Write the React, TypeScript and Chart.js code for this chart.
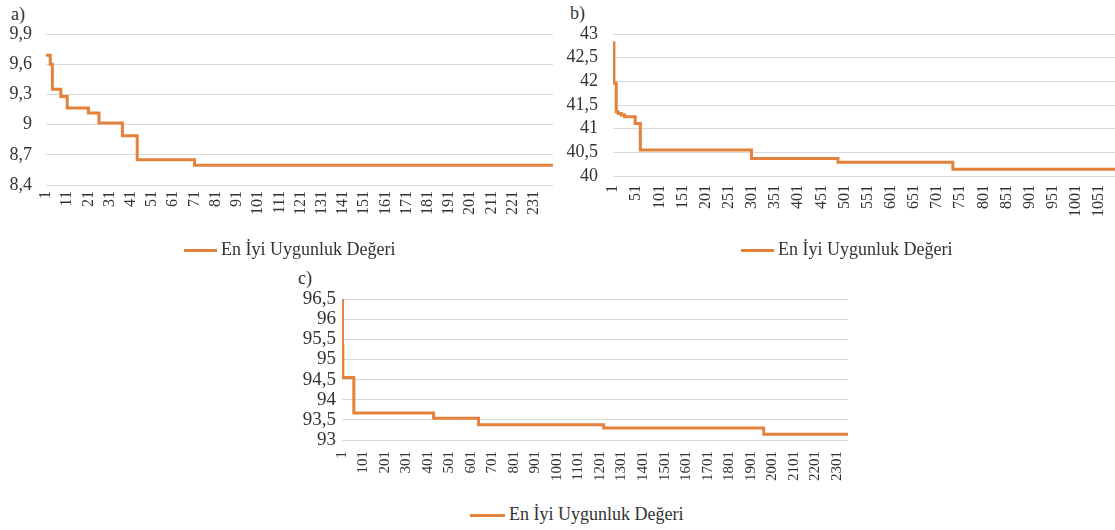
import React, { useEffect, useRef } from 'react';
import { Chart, registerables } from 'chart.js';

Chart.register(...registerables);

const legendLabel = 'En İyi Uygunluk Değeri';
const lineColor = '#E4813B';
const gridColor = '#D9D9D9';
const textColor = '#333333';
const fontFamily = "'Liberation Serif', 'Times New Roman', serif";

// Chart a) — iteration at which the best value changes, and the new value
const aIterations = [1, 3, 4, 8, 11, 21, 26, 37, 44, 71, 240];
const aValues = [9.69, 9.6, 9.35, 9.28, 9.165, 9.115, 9.015, 8.89, 8.65, 8.595, 8.595];
const aXTicks = [1, 11, 21, 31, 41, 51, 61, 71, 81, 91, 101, 111, 121, 131, 141, 151, 161, 171, 181, 191, 201, 211, 221, 231];
const aYTicks = [8.4, 8.7, 9, 9.3, 9.6, 9.9];

// Chart b)
const bIterations = [1, 3, 8, 12, 19, 26, 49, 60, 300, 487, 735, 1096];
const bValues = [42.81, 41.96, 41.36, 41.32, 41.29, 41.25, 41.11, 40.55, 40.37, 40.29, 40.14, 40.14];
const bXTicks = [1, 51, 101, 151, 201, 251, 301, 351, 401, 451, 501, 551, 601, 651, 701, 751, 801, 851, 901, 951, 1001, 1051];
const bYTicks = [40, 40.5, 41, 41.5, 42, 42.5, 43];

// Chart c)
const cIterations = [1, 3, 5, 56, 427, 636, 1218, 1962, 2354];
const cValues = [96.46, 95.35, 94.55, 93.67, 93.54, 93.38, 93.3, 93.14, 93.14];
const cXTicks = [1, 101, 201, 301, 401, 501, 601, 701, 801, 901, 1001, 1101, 1201, 1301, 1401, 1501, 1601, 1701, 1801, 1901, 2001, 2101, 2201, 2301];
const cYTicks = [93, 93.5, 94, 94.5, 95, 95.5, 96, 96.5];

type PanelProps = {
  left: number;
  top: number;
  width: number;
  height: number;
  yAxisWidth: number;
  xAxisHeight: number;
  padTop: number;
  iterations: number[];
  values: number[];
  xTicks: number[];
  yTicks: number[];
  xMax: number;
  yTickPadding: number;
  xTickPadding: number;
  yFontSize: number;
  xFontSize: number;
};

function Panel(p: PanelProps) {
  const ref = useRef<HTMLCanvasElement | null>(null);
  useEffect(() => {
    if (!ref.current) return;
    const chart = new Chart(ref.current, {
      type: 'line',
      data: {
        datasets: [
          {
            label: legendLabel,
            data: p.iterations.map((x, i) => ({ x, y: p.values[i] })),
            borderColor: lineColor,
            backgroundColor: lineColor,
            borderWidth: 3,
            pointRadius: 0,
            stepped: 'before',
            fill: false,
          },
        ],
      },
      options: {
        animation: false,
        responsive: false,
        maintainAspectRatio: false,
        devicePixelRatio: 1,
        events: [],
        layout: { padding: { top: p.padTop, right: 8, bottom: 0, left: 0 } },
        plugins: { legend: { display: false }, tooltip: { enabled: false }, title: { display: false } },
        scales: {
          x: {
            type: 'linear',
            min: 1,
            max: p.xMax,
            afterBuildTicks: (axis: any) => {
              axis.ticks = p.xTicks.map((v) => ({ value: v }));
            },
            afterFit: (scale: any) => {
              scale.height = p.xAxisHeight;
              scale.paddingLeft = 0;
              scale.paddingRight = 0;
              scale.paddingTop = 0;
              scale.paddingBottom = 0;
            },
            grid: { display: false, drawTicks: false, tickLength: 0 },
            border: { display: false },
            ticks: {
              autoSkip: false,
              minRotation: 90,
              maxRotation: 90,
              padding: p.xTickPadding,
              color: textColor,
              font: { family: fontFamily, size: p.xFontSize },
              callback: (v: any) => String(v),
            },
          },
          y: {
            type: 'linear',
            min: p.yTicks[0],
            max: p.yTicks[p.yTicks.length - 1],
            afterBuildTicks: (axis: any) => {
              axis.ticks = p.yTicks.map((v) => ({ value: v }));
            },
            afterFit: (scale: any) => {
              scale.width = p.yAxisWidth;
              scale.paddingLeft = 0;
              scale.paddingRight = 0;
              scale.paddingTop = 0;
              scale.paddingBottom = 0;
            },
            grid: { color: gridColor, lineWidth: 1, drawTicks: false, tickLength: 0 },
            border: { display: false },
            ticks: {
              autoSkip: false,
              padding: p.yTickPadding,
              color: textColor,
              font: { family: fontFamily, size: p.yFontSize, lineHeight: 1 },
              callback: (v: any) => String(v).replace('.', ','),
            },
          },
        },
      },
    } as any);
    return () => chart.destroy();
  }, []);
  return (
    <canvas
      ref={ref}
      width={p.width}
      height={p.height}
      style={{ position: 'absolute', left: p.left, top: p.top, width: p.width, height: p.height }}
    />
  );
}

function Legend({ left, top, lineWidth }: { left: number; top: number; lineWidth: number }) {
  return (
    <>
      <div
        style={{
          position: 'absolute',
          left,
          top: top + 8.5,
          width: lineWidth,
          height: 3,
          background: lineColor,
        }}
      />
      <div
        style={{
          position: 'absolute',
          left: left + lineWidth + 4,
          top,
          fontFamily,
          fontSize: 18,
          lineHeight: '18px',
          color: textColor,
          whiteSpace: 'nowrap',
        }}
      >
        {legendLabel}
      </div>
    </>
  );
}

function Title({ left, top, text }: { left: number; top: number; text: string }) {
  return (
    <div
      style={{
        position: 'absolute',
        left,
        top,
        fontFamily,
        fontSize: 18,
        lineHeight: '18px',
        color: textColor,
      }}
    >
      {text}
    </div>
  );
}

export default function App() {
  return (
    <div
      style={{
        position: 'absolute',
        left: 0,
        top: 0,
        width: 1115,
        height: 530,
        overflow: 'hidden',
        background: '#ffffff',
      }}
    >
      <Title left={11} top={5} text="a)" />
      <Title left={570} top={4} text="b)" />
      <Title left={298} top={269} text="c)" />

      <Panel
        left={0}
        top={19}
        width={561}
        height={221}
        yAxisWidth={46}
        xAxisHeight={55}
        padTop={15}
        iterations={aIterations}
        values={aValues}
        xTicks={aXTicks}
        yTicks={aYTicks}
        xMax={240}
        yTickPadding={14}
        xTickPadding={6}
        yFontSize={18}
        xFontSize={16}
      />
      <Panel
        left={555}
        top={19}
        width={573}
        height={212}
        yAxisWidth={58}
        xAxisHeight={55}
        padTop={15}
        iterations={bIterations}
        values={bValues}
        xTicks={bXTicks}
        yTicks={bYTicks}
        xMax={1096}
        yTickPadding={15}
        xTickPadding={9}
        yFontSize={18}
        xFontSize={16}
      />
      <Panel
        left={290}
        top={284}
        width={566}
        height={211}
        yAxisWidth={52}
        xAxisHeight={55}
        padTop={15}
        iterations={cIterations}
        values={cValues}
        xTicks={cXTicks}
        yTicks={cYTicks}
        xMax={2354}
        yTickPadding={6}
        xTickPadding={11}
        yFontSize={19}
        xFontSize={15}
      />

      <Legend left={184} top={240} lineWidth={33} />
      <Legend left={741} top={240} lineWidth={33} />
      <Legend left={470} top={505} lineWidth={35} />
    </div>
  );
}
